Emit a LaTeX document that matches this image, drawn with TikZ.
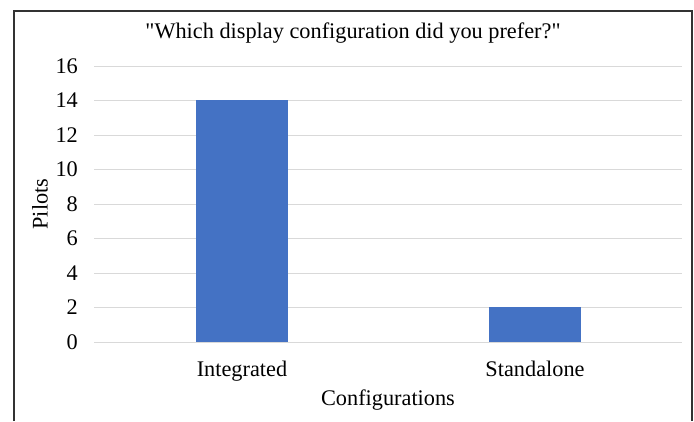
\documentclass[tikz,border=0pt]{standalone}
\usepackage{fontspec}
\setmainfont{Liberation Serif}[Ligatures=TeXOff]
\usetikzlibrary{positioning}
\definecolor{barblue}{HTML}{4472C4}
\definecolor{gridgray}{HTML}{D9D9D9}
\tikzset{
  lbl/.style={font=\fontsize{22.3}{25}\selectfont,inner sep=0pt},
  bar/.style={rectangle,fill=barblue,anchor=south,minimum width=92pt,inner sep=0pt}
}
\begin{document}
\begin{tikzpicture}[x=1pt,y=-1pt]
\useasboundingbox (0,0) rectangle (694,421);
\fill[white] (0,0) rectangle (694,421);
\draw [line width=1.4pt,black!80] (14,421) -- (14,11) -- (692,11) -- (692,421);
\node at (353,33) [lbl] (title) {"Which display configuration did you prefer?"};
% grid and y ticks
\foreach \v in {0,2,...,16} {
  \draw [gridgray,line width=0.9pt] (94,342-17.25*\v) -- (682,342-17.25*\v);
  \node at (78,342-17.25*\v) [lbl,anchor=east] (y\v) {\v};
}
\node at (242,342) [bar,minimum height=14*17.25pt] (int) {};
\node at (535,342) [bar,minimum height=2*17.25pt] (sta) {};
\node [lbl,below=19pt of int.south] (intl) {Integrated};
\node [lbl,below=19pt of sta.south] (stal) {Standalone};
\node at (388,400) [lbl] (xlab) {Configurations};
\node at (40,204) [lbl,rotate=90] (ylab) {Pilots};
\end{tikzpicture}
\end{document}
